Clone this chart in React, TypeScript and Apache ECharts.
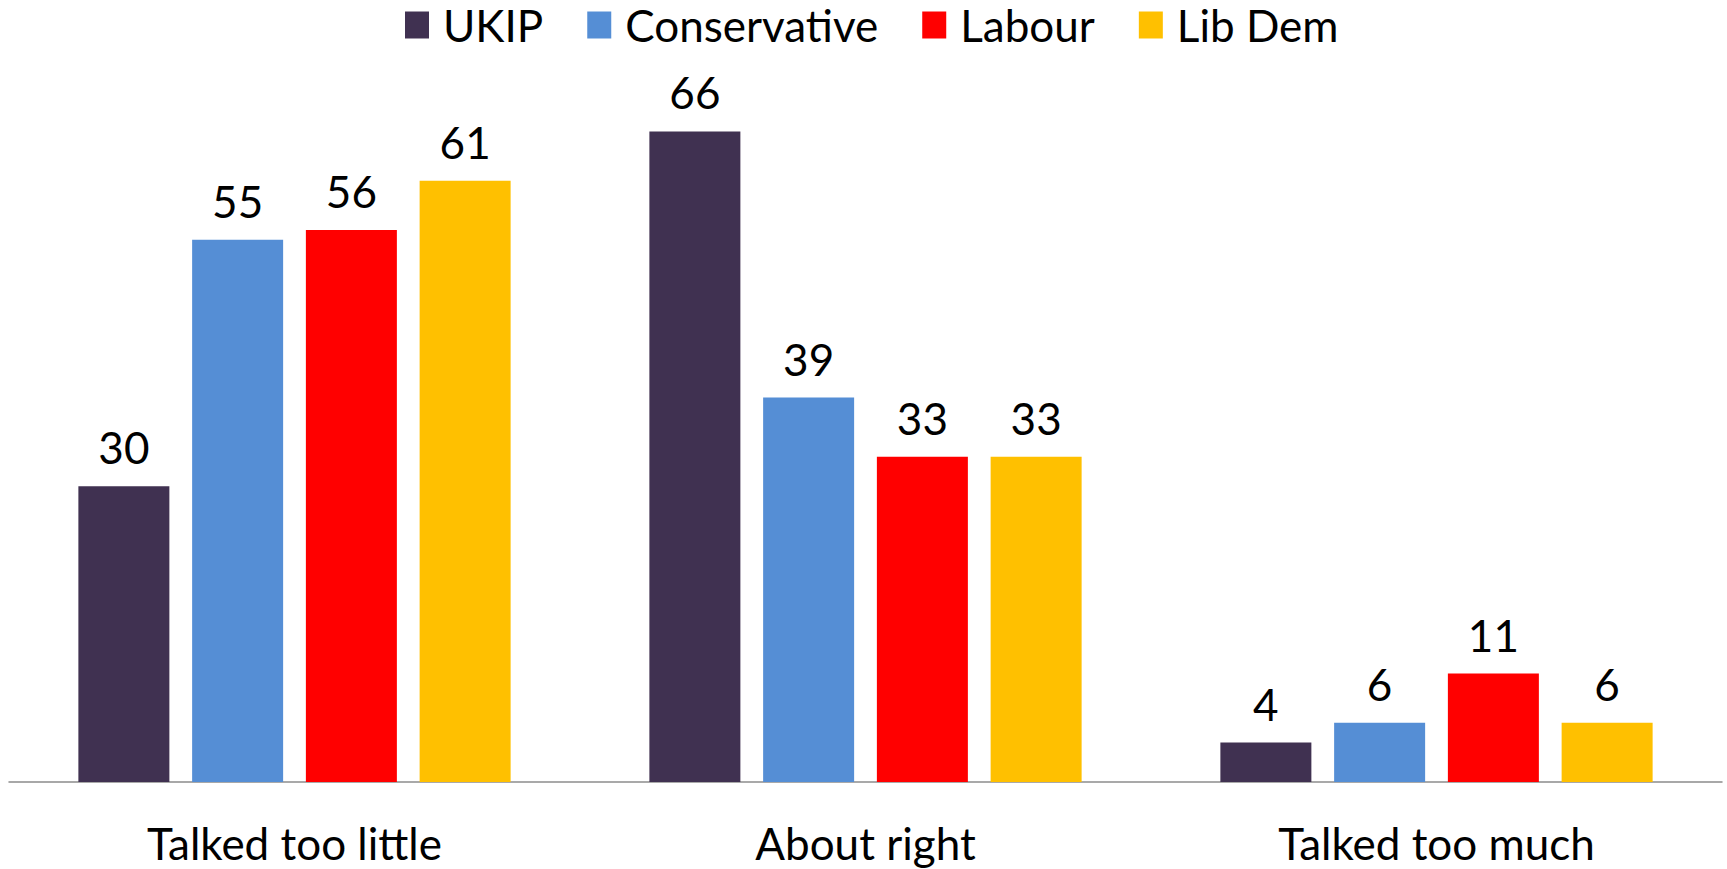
import React, { useEffect, useRef } from "react";
import * as echarts from "echarts";

const categories = ["Talked too little", "About right", "Talked too much"];
const seriesNames = ["UKIP", "Conservative", "Labour", "Lib Dem"];
const ukip = [30, 66, 4];
const conservative = [55, 39, 6];
const labour = [56, 33, 11];
const libDem = [61, 33, 6];
const colors = ["#403151", "#558ED5", "#FF0000", "#FFC000"];

const FONT = "Lato";

export default function App() {
  const ref = useRef<HTMLDivElement>(null);
  useEffect(() => {
    document.body.style.margin = "0";
    const chart = echarts.init(ref.current!, null, { renderer: "svg" });
    const values = [ukip, conservative, labour, libDem];
    chart.setOption({
      animation: false,
      textStyle: { fontFamily: FONT, color: "#000" },
      legend: {
        top: 0,
        left: 405,
        padding: 0,
        itemWidth: 24,
        itemHeight: 27,
        itemGap: 44,
        icon: "rect",
        textStyle: { fontFamily: FONT, fontSize: 44, color: "#000", lineHeight: 50, padding: [0, 0, 0, 9] },
        data: seriesNames,
      },
      grid: { left: 9, right: 5, top: 92, bottom: 87, containLabel: false },
      xAxis: {
        type: "category",
        data: categories,
        axisLine: { show: true, lineStyle: { color: "#8c8c8c", width: 1.5 } },
        axisTick: { show: false },
        axisLabel: { fontFamily: FONT, fontSize: 44, color: "#000", margin: 39 },
      },
      yAxis: {
        type: "value",
        min: 0,
        max: 70,
        show: false,
        splitLine: { show: false },
      },
      series: values.map((v, i) => ({
        name: seriesNames[i],
        type: "bar",
        data: v,
        barWidth: 91,
        barGap: "25%",
        itemStyle: { color: colors[i] },
        label: {
          show: true,
          position: "top",
          distance: 17,
          fontFamily: FONT,
          fontSize: 44,
          color: "#000",
        },
      })),
    });
    return () => chart.dispose();
  }, []);
  return <div ref={ref} style={{ width: 1727, height: 869 }} />;
}
